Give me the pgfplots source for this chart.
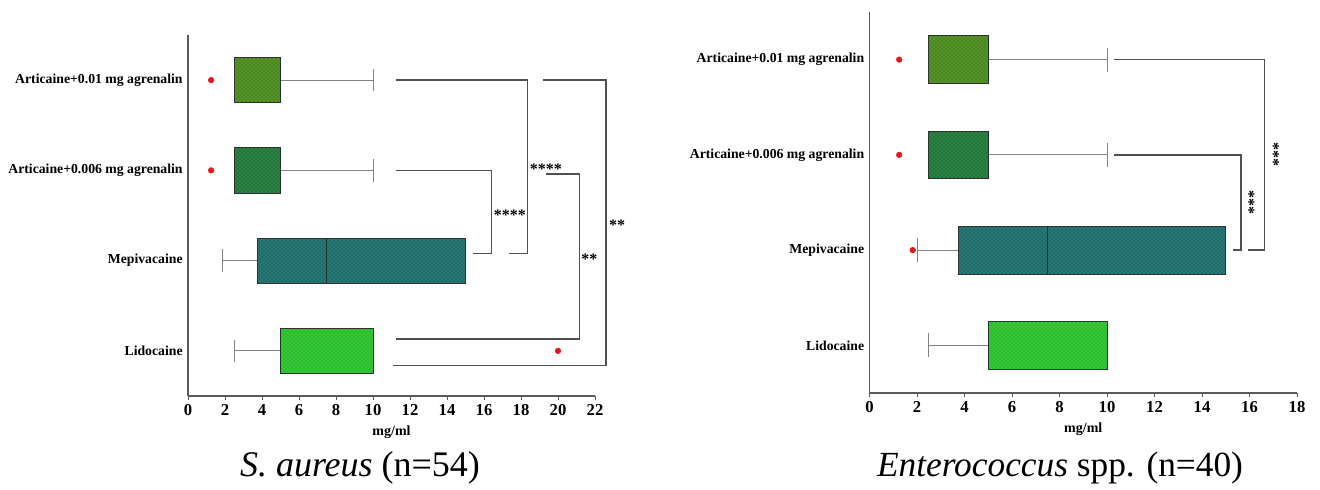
\documentclass[border=0pt]{standalone}
\usepackage{fontspec}
\setmainfont{Liberation Serif}
\usepackage{pgfplots}
\pgfplotsset{compat=1.18}
\usepgfplotslibrary{statistics}
\usetikzlibrary{patterns}
\definecolor{cA}{RGB}{72,136,28}
\definecolor{cB}{RGB}{30,118,55}
\definecolor{cC}{RGB}{28,108,108}
\definecolor{cD}{RGB}{40,192,40}
\definecolor{axisgray}{RGB}{90,90,90}
\definecolor{brk}{RGB}{80,80,80}
\definecolor{whisk}{RGB}{130,130,130}
\definecolor{boxline}{RGB}{50,50,50}
\definecolor{medline}{RGB}{30,50,50}
\definecolor{outl}{RGB}{225,25,25}
\tikzset{stars/.style={font=\fontsize{12}{13}\selectfont\bfseries, inner sep=0pt}}
\pgfplotsset{
  base/.style={
    scale only axis,
    clip=false,
    axis x line*=bottom,
    axis y line*=left,
    axis line style={draw=axisgray, line width=0.9pt},
    ymin=0.5, ymax=4.5,
    ytick={1,2,3,4},
    yticklabels={Lidocaine, Mepivacaine, Articaine+0.006 mg agrenalin, Articaine+0.01 mg agrenalin},
    tick align=outside,
    major tick length=3pt,
    ytick style={draw=none},
    xtick style={draw=axisgray, line width=0.6pt},
    /pgf/number format/assume math mode=true,
    xticklabel style={font=\fontsize{12.5}{14}\selectfont\bfseries},
    yticklabel style={font=\fontsize{10.3}{12}\selectfont\bfseries, xshift=2.5pt},
    xlabel={mg/ml},
    xlabel style={font=\fontsize{10.5}{12}\selectfont\bfseries, at={(axis description cs:0.5,0)}, anchor=center, yshift=-27pt},
    boxplot/draw direction=x,
  },
  bx/.style={color=boxline, draw=boxline, line width=0.6pt,
    boxplot/every box/.style={draw=boxline, fill=#1, postaction={pattern=crosshatch dots, pattern color=#1!65!white}},
    boxplot/every whisker/.style={draw=whisk, line width=0.75pt},
    boxplot/every median/.style={draw=medline, line width=1.1pt}},
  brk/.style={draw=brk, line width=1pt, mark=none},
}
\begin{document}
\begin{tikzpicture}
\path[use as bounding box] (0,0) rectangle (990pt,366.75pt);
% ---------------- left: S. aureus
\begin{axis}[base, at={(141pt,69.75pt)}, anchor=south west,
  width=305.25pt, height=270.75pt, xmin=0, xmax=22, xtick={0,2,...,22}]
\addplot[bx=cA, boxplot prepared={lower whisker=2.5, lower quartile=2.5, median=5, upper quartile=5, upper whisker=10, draw position=4, box extend=0.5, whisker extend=0.25}] coordinates {};
\addplot[bx=cB, boxplot prepared={lower whisker=2.5, lower quartile=2.5, median=5, upper quartile=5, upper whisker=10, draw position=3, box extend=0.5, whisker extend=0.25}] coordinates {};
\addplot[bx=cC, boxplot prepared={lower whisker=1.875, lower quartile=3.75, median=7.5, upper quartile=15, upper whisker=15, draw position=2, box extend=0.5, whisker extend=0.25}] coordinates {};
\addplot[bx=cD, boxplot prepared={lower whisker=2.5, lower quartile=5, median=5, upper quartile=10, upper whisker=10, draw position=1, box extend=0.5, whisker extend=0.25}] coordinates {};
\addplot[only marks, mark=*, mark size=2.1pt, color=outl] coordinates {(1.25,4) (1.25,3) (20,1)};
% brackets
\addplot[brk] coordinates {(11.24,3) (16.4,3) (16.4,2.08) (15.4,2.08)};
\addplot[brk] coordinates {(11.24,4) (18.36,4) (18.36,2.08) (17.37,2.08)};
\addplot[brk] coordinates {(19.35,2.96) (21.15,2.96) (21.15,1.13) (11.24,1.13)};
\addplot[brk] coordinates {(19.2,4) (22.6,4) (22.6,0.84) (11.1,0.84)};
\node[stars] at (axis cs:17.4,2.50) {****};
\node[stars] at (axis cs:19.35,3.01) {****};
\node[stars] at (axis cs:21.7,2.01) {**};
\node[stars] at (axis cs:23.2,2.39) {**};
\end{axis}
% ---------------- right: Enterococcus
\begin{axis}[base, at={(652.125pt,72pt)}, anchor=south west,
  width=320.625pt, height=285.75pt, xmin=0, xmax=18, xtick={0,2,...,18}]
\addplot[bx=cA, boxplot prepared={lower whisker=2.5, lower quartile=2.5, median=5, upper quartile=5, upper whisker=10, draw position=4, box extend=0.5, whisker extend=0.25}] coordinates {};
\addplot[bx=cB, boxplot prepared={lower whisker=2.5, lower quartile=2.5, median=5, upper quartile=5, upper whisker=10, draw position=3, box extend=0.5, whisker extend=0.25}] coordinates {};
\addplot[bx=cC, boxplot prepared={lower whisker=2.0, lower quartile=3.75, median=7.5, upper quartile=15, upper whisker=15, draw position=2, box extend=0.5, whisker extend=0.25}] coordinates {};
\addplot[bx=cD, boxplot prepared={lower whisker=2.5, lower quartile=5, median=5, upper quartile=10, upper whisker=10, draw position=1, box extend=0.5, whisker extend=0.25}] coordinates {};
\addplot[only marks, mark=*, mark size=2.1pt, color=outl] coordinates {(1.25,4) (1.25,3) (1.82,2)};
\addplot[brk] coordinates {(10.3,3) (15.64,3) (15.64,2) (15.32,2)};
\addplot[brk] coordinates {(10.3,4) (16.62,4) (16.62,2) (15.95,2)};
\node[stars, rotate=-90] at (axis cs:15.98,2.5) {***};
\node[stars, rotate=-90] at (axis cs:17.02,3.0) {***};
\end{axis}
% captions
\node[anchor=base, font=\fontsize{27}{31}\selectfont] at (270pt,9.75pt) {\textit{S. aureus} (n=54)};
\node[anchor=base, font=\fontsize{26.5}{30}\selectfont] at (795pt,9.75pt) {\textit{Enterococcus} spp. (n=40)};
\end{tikzpicture}
\end{document}
